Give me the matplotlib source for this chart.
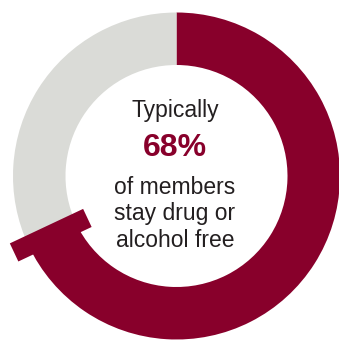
import numpy as np
import matplotlib.pyplot as plt
from matplotlib.patches import Polygon

# Share of members staying drug or alcohol free
shares = [68, 32]
share_colors = ["#88002B", "#DADBD7"]
headline = "68%"
caption_top = "Typically"
caption_lines = ["of members", "stay drug or", "alcohol free"]

W, H = 339, 340
fig = plt.figure(figsize=(W / 100, H / 100), dpi=100)
ax = fig.add_axes([0, 0, 1, 1])

cx, cy = 176.5, 164.0
r_out, ring_w = 163.5, 52.5

ax.pie(shares, colors=share_colors, startangle=90, counterclock=False,
       radius=r_out, center=(cx, cy),
       wedgeprops=dict(width=ring_w, linewidth=0))

# T-shaped end cap where the highlighted share stops
end_ang = np.deg2rad(90 - 360 * shares[0] / sum(shares))
u = np.array([np.cos(end_ang), np.sin(end_ang)])
v = np.array([-u[1], u[0]])
r0, r1, half = 98.5, 179.5, 10.0
c = np.array([cx, cy])
cap = [c + r0 * u - half * v, c + r1 * u - half * v,
       c + r1 * u + half * v, c + r0 * u + half * v]
ax.add_patch(Polygon(cap, closed=True, facecolor=share_colors[0], linewidth=0))

ax.set_xlim(0, W)
ax.set_ylim(0, H)
ax.set_aspect("equal")
ax.axis("off")

font = "Liberation Sans"
txt = "#231F20"
ax.text(175, H - 117.5, caption_top, ha="center", va="baseline",
        fontsize=16.5, color=txt, family=font)
ax.text(175, H - 156, headline, ha="center", va="baseline",
        fontsize=23, fontweight="bold", color=share_colors[0], family=font)
for i, line in enumerate(caption_lines):
    ax.text(175, H - (193.5 + 26.7 * i), line, ha="center", va="baseline",
            fontsize=16.5, color=txt, family=font)

fig.savefig("out.png", dpi=100)
